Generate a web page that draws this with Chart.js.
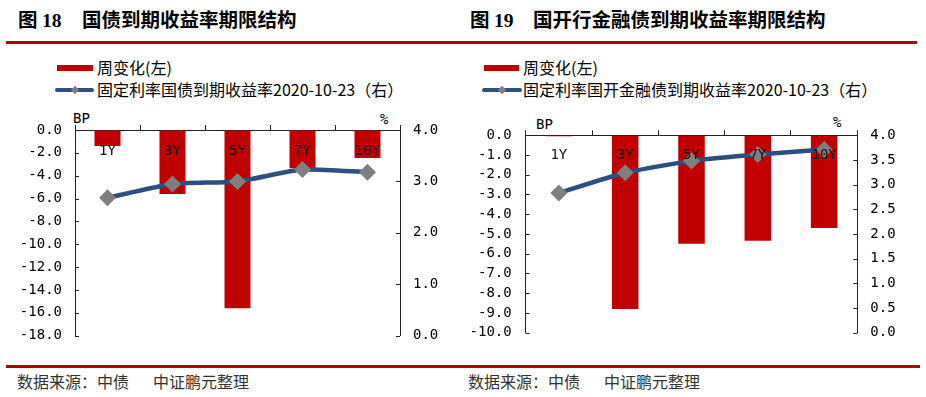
<!DOCTYPE html>
<html><head><meta charset="utf-8">
<script src="https://cdn.jsdelivr.net/npm/chart.js@4"></script>
<style>
html,body{margin:0;padding:0;background:#fff;width:926px;height:397px;overflow:hidden;position:relative;font-family:"Noto Sans CJK SC",sans-serif;color:#000;}
.abs{position:absolute;white-space:nowrap;}
.title{font-weight:bold;font-size:19.5px;line-height:24px;height:24px;}
.serif{font-family:"Liberation Serif",serif;font-weight:bold;}
.leg{font-size:16px;line-height:20px;height:20px;}
.unit{font-family:"DejaVu Sans Mono",monospace;font-size:14px;line-height:16px;}
.src{font-size:16px;line-height:20px;color:#333;}
.rule{position:absolute;background:#B00000;height:3px;}
.cv{position:absolute;}
</style></head>
<body>
<div class="abs title" style="left:18px;top:7px;">图 <span class="serif">18</span></div>
<div class="abs title" style="left:82px;top:7px;">国债到期收益率期限结构</div>
<div class="abs title" style="left:470px;top:7px;">图 <span class="serif">19</span></div>
<div class="abs title" style="left:533px;top:7px;">国开行金融债到期收益率期限结构</div>
<div class="rule" style="left:6px;top:41px;width:911px;"></div>

<!-- legends -->
<div class="abs" style="left:57px;top:65px;width:36px;height:6px;background:#C00000;"></div>
<div class="abs leg" style="left:97px;top:57px;">周变化(左)</div>
<div class="abs" style="left:55px;top:88px;width:39px;height:4px;border-radius:2px;background:#2C4F80;"></div>
<div class="abs" style="left:72px;top:87px;width:6px;height:6px;background:#7F7F7F;transform:rotate(45deg);"></div>
<div class="abs leg" style="left:97px;top:79px;">固定利率国债到期收益率2020-10-23（右）</div>

<div class="abs" style="left:484px;top:65px;width:35px;height:6px;background:#C00000;"></div>
<div class="abs leg" style="left:523px;top:57px;">周变化(左)</div>
<div class="abs" style="left:482px;top:88px;width:40px;height:4px;border-radius:2px;background:#2C4F80;"></div>
<div class="abs" style="left:499px;top:87px;width:6px;height:6px;background:#7F7F7F;transform:rotate(45deg);"></div>
<div class="abs leg" style="left:523px;top:79px;">固定利率国开金融债到期收益率2020-10-23（右）</div>

<div class="abs unit" style="left:73px;top:110px;">BP</div>
<div class="abs unit" style="left:380px;top:111px;">%</div>
<div class="abs unit" style="left:536px;top:116px;">BP</div>
<div class="abs unit" style="left:833px;top:114px;">%</div>

<div class="cv" style="left:0;top:100px;width:460px;height:257px;"><canvas id="c1"></canvas></div>
<div class="cv" style="left:460px;top:100px;width:466px;height:255px;"><canvas id="c2"></canvas></div>

<div class="rule" style="left:6px;top:365px;width:914px;"></div>
<div class="abs src" style="left:17px;top:371px;">数据来源：中债</div>
<div class="abs src" style="left:153px;top:371px;">中证鹏元整理</div>
<div class="abs src" style="left:468px;top:371px;">数据来源：中债</div>
<div class="abs src" style="left:604px;top:371px;">中证鹏元整理</div>

<script>
// ---- data ----
const categories = ['1Y', '3Y', '5Y', '7Y', '10Y'];
const govWeeklyChange = [-1.4, -5.6, -15.6, -3.35, -2.45];
const govYield = [2.68, 2.95, 3.00, 3.23, 3.18];
const cdbWeeklyChange = [-0.05, -8.8, -5.5, -5.35, -4.7];
const cdbYield = [2.83, 3.24, 3.48, 3.61, 3.71];
const govLeftAxis = { min: -18, max: 0, step: 2 };
const govRightAxis = { min: 0, max: 4, step: 1 };
const cdbLeftAxis = { min: -10, max: 0, step: 1 };
const cdbRightAxis = { min: 0, max: 4, step: 0.5 };

const AXIS = '#222';
const BAR = '#C00000';
const LINE = '#2C4F80';
const MARK = '#7F7F7F';

Chart.defaults.font.family = '"DejaVu Sans Mono", monospace';
Chart.defaults.font.size = 14;
Chart.defaults.color = '#000';

const innerTicks = {
  id: 'innerTicks',
  afterDraw(chart) {
    const ctx = chart.ctx, a = chart.chartArea;
    ctx.save();
    ctx.strokeStyle = AXIS; ctx.lineWidth = 1;
    const yl = chart.scales.y, yr = chart.scales.y1;
    yl.ticks.forEach(t => {
      const p = Math.round(yl.getPixelForValue(t.value)) + 0.5;
      ctx.beginPath(); ctx.moveTo(a.left, p); ctx.lineTo(a.left + 4, p); ctx.stroke();
    });
    yr.ticks.forEach(t => {
      const p = Math.round(yr.getPixelForValue(t.value)) + 0.5;
      ctx.beginPath(); ctx.moveTo(a.right, p); ctx.lineTo(a.right - 4, p); ctx.stroke();
    });
    ctx.restore();
  }
};

function build(id, changes, yields, la, ra, g) {
  new Chart(document.getElementById(id), {
    type: 'bar',
    data: {
      labels: categories,
      datasets: [
        { type: 'line', data: yields, xAxisID: 'x', yAxisID: 'y1', order: 0,
          borderColor: LINE, borderWidth: 4.5, tension: 0.2,
          pointStyle: 'rectRot', pointRadius: 8.5, pointBackgroundColor: MARK,
          pointBorderWidth: 0, pointBorderColor: MARK },
        { type: 'bar', data: changes, xAxisID: 'x', yAxisID: 'y', order: 1,
          backgroundColor: BAR, barPercentage: 0.4, categoryPercentage: 1.0 }
      ]
    },
    options: {
      responsive: true, maintainAspectRatio: false, animation: false,
      layout: { padding: { left: 0, right: 0, top: 0, bottom: 0 } },
      plugins: { legend: { display: false }, tooltip: { enabled: false } },
      scales: {
        xTop: {
          type: 'category', position: 'top', offset: true,
          grid: { offset: true, drawOnChartArea: false, tickLength: 5, color: AXIS },
          border: { display: true, color: AXIS },
          ticks: { display: false },
          afterFit(s) { s.height = g.top; }
        },
        x: {
          type: 'category', position: { y: 0 }, offset: true,
          grid: { display: false, drawTicks: false },
          border: { display: false },
          ticks: { padding: g.labelPad, z: 1, color: '#111', maxRotation: 0, autoSkip: false }
        },
        y: {
          position: 'left', min: la.min, max: la.max,
          ticks: { stepSize: la.step, autoSkip: false, padding: g.lPad, callback: v => Number(v).toFixed(1) },
          grid: { display: true, drawOnChartArea: false, drawTicks: false, color: 'rgba(0,0,0,0)' },
          border: { display: true, color: AXIS },
          afterFit(s) { s.width = g.left; }
        },
        y1: {
          position: 'right', min: ra.min, max: ra.max,
          ticks: { stepSize: ra.step, autoSkip: false, padding: g.rPad, callback: v => Number(v).toFixed(1) },
          grid: { display: true, drawOnChartArea: false, drawTicks: false, color: 'rgba(0,0,0,0)' },
          border: { display: true, color: AXIS },
          afterFit(s) { s.width = g.right; }
        }
      }
    },
    plugins: [innerTicks]
  });
}

build('c1', govWeeklyChange, govYield, govLeftAxis, govRightAxis,
  { top: 30, left: 75, right: 60, lPad: 13, rPad: 13, labelPad: 13 });
build('c2', cdbWeeklyChange, cdbYield, cdbLeftAxis, cdbRightAxis,
  { top: 35.3, left: 65.7, right: 68.7, lPad: 14, rPad: 13, labelPad: 12 });
</script>
</body></html>
